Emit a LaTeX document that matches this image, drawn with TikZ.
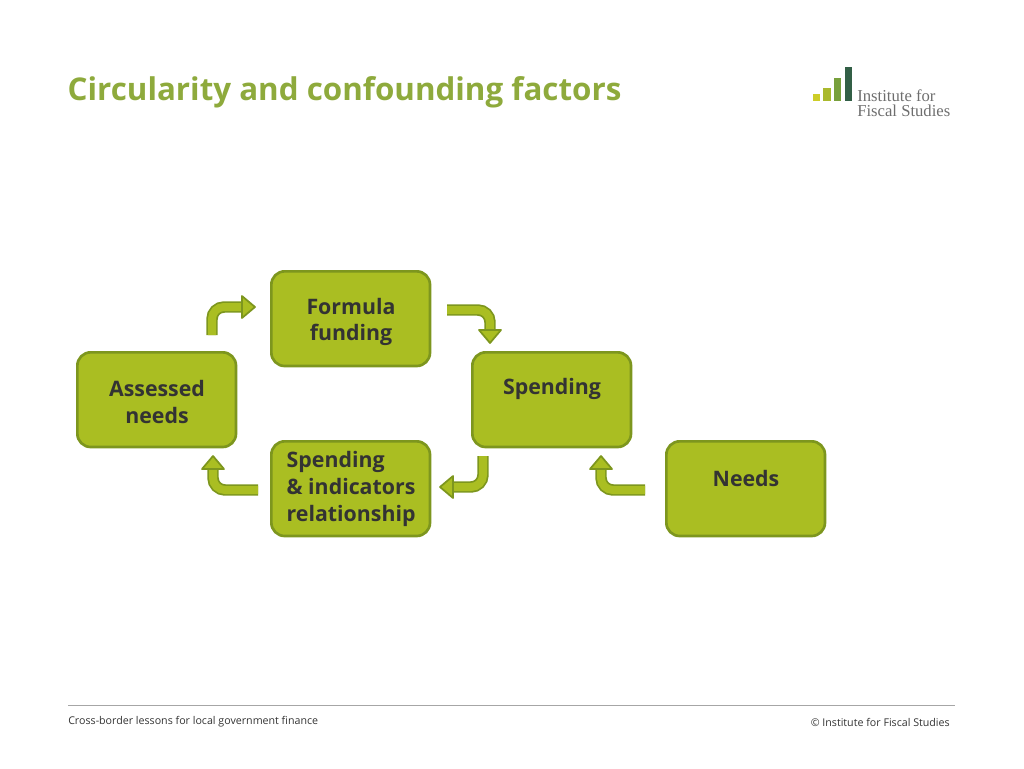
\documentclass[tikz,border=0pt]{standalone}
\usepackage{fontspec}
\setmainfont{Open Sans}
\newfontfamily\logofont{Liberation Serif}
\begin{document}
\begin{tikzpicture}[x=0.75pt,y=-0.75pt,
  box/.style={draw=bord,fill=olive1,line width=2pt,rounded corners=10pt,minimum width=119pt,minimum height=71pt,anchor=north west,inner sep=0pt},
  lbl/.style={font=\bfseries\fontsize{16}{20}\selectfont,text=txt,align=center},
  shaft/.style={draw=bord,double=olive1,double distance=6pt,line width=1.3pt,rounded corners=9pt},
  head/.style={draw=bord,fill=olive1,line width=1.3pt,line join=round}]
\definecolor{olive1}{RGB}{170,190,34}
\definecolor{bord}{RGB}{125,150,30}
\definecolor{txt}{RGB}{51,51,51}
\definecolor{ttl}{RGB}{142,170,60}
\useasboundingbox (0,0) rectangle (1024,768);
\node[anchor=west,text=ttl,font=\bfseries\fontsize{23.5}{28}\selectfont] (title) at (63,92) {Circularity and confounding factors};
% logo
\fill[fill={rgb,255:red,205;green,205;blue,40}] (813,94) rectangle (820,101);
\fill[fill={rgb,255:red,170;green,185;blue,45}] (823,88) rectangle (831,101);
\fill[fill={rgb,255:red,120;green,160;blue,60}] (834,78) rectangle (841,101);
\fill[fill={rgb,255:red,50;green,95;blue,70}] (845,67) rectangle (852,101);
\node[anchor=west,text={rgb,255:red,110;green,110;blue,110},font=\logofont\fontsize{12.5}{11}\selectfont,align=left,inner sep=0pt] (logo) at (857,103) {Institute for\\Fiscal Studies};
% boxes
\node[box] (ff) at (270,270) {};
\node[lbl] (fft) at (351,322) {Formula\\funding};
\node[box] (an) at (76,351) {};
\node[lbl] (ant) at (157,402) {Assessed\\needs};
\node[box] (sp) at (471,351) {};
\node[lbl] (spt) at (552,389) {Spending};
\node[box] (si) at (270,440) {};
\node[lbl,align=left,anchor=west] (sit) at (282,489) {Spending\\\& indicators\\relationship};
\node[box] (nd) at (665,440) {};
\node[lbl] (ndt) at (746,478) {Needs};
% arrows
\coordinate (a1s) at (212,335); \coordinate (a1e) at (243,307);
\draw[shaft] (a1s) -- (212,307) -- (a1e);
\draw[head] (242,296) -- (255,307) -- (242,318) -- cycle;
\coordinate (a2s) at (447,310); \coordinate (a2e) at (490,331);
\draw[shaft] (a2s) -- (490,310) -- (a2e);
\draw[head] (479,330) -- (490,343) -- (501,330) -- cycle;
\coordinate (a3s) at (483,456); \coordinate (a3e) at (452,487);
\draw[shaft] (a3s) -- (483,487) -- (a3e);
\draw[head] (453,476) -- (440,487) -- (453,498) -- cycle;
\coordinate (a4s) at (258,490); \coordinate (a4e) at (213,468);
\draw[shaft] (a4s) -- (213,490) -- (a4e);
\draw[head] (202,469) -- (213,456) -- (224,469) -- cycle;
\coordinate (a5s) at (645,490); \coordinate (a5e) at (601,468);
\draw[shaft] (a5s) -- (601,490) -- (a5e);
\draw[head] (590,469) -- (601,456) -- (612,469) -- cycle;
% footer
\coordinate (fl) at (68,705); \coordinate (fr) at (955,705);
\draw[gray!70,line width=0.6pt] (fl) -- (fr);
\node[anchor=west,inner sep=0pt,text=txt,font=\fontsize{8}{9}\selectfont] (f1) at (68,722) {Cross-border lessons for local government finance};
\node[anchor=east,inner sep=0pt,text=txt,font=\fontsize{8}{9}\selectfont] (f2) at (950,722) {© Institute for Fiscal Studies};
\end{tikzpicture}
\end{document}
